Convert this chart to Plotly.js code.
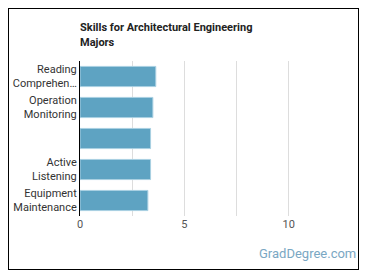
<!DOCTYPE html>
<html>
<head>
<meta charset="utf-8">
<script src="https://cdn.plot.ly/plotly-3.0.1.min.js"></script>
<style>
  html, body { margin: 0; padding: 0; background: #fff; }
  #wrap { position: relative; width: 370px; height: 278px; }
  #chart { width: 370px; height: 278px; }
  #frame { position: absolute; left: 8px; top: 8px; width: 349px; height: 260px; border: 1px solid #000; pointer-events: none; }
</style>
</head>
<body>
<div id="wrap">
  <div id="chart"></div>
  <div id="frame"></div>
</div>
<script>
const categories = ["Reading<br>Comprehen…", "Operation<br>Monitoring", " ", "Active<br>Listening", "Equipment<br>Maintenance"];
const values = [3.63, 3.49, 3.38, 3.38, 3.25];
const xTickVals = [0, 2.5, 5, 7.5, 10];
const xTickText = ["0", "", "5", "", "10"];
const titleText = "Skills for Architectural Engineering<br>Majors";
const watermark = "GradDegree.com";

const trace = {
  type: "bar",
  orientation: "h",
  x: values,
  y: categories,
  marker: { color: "#5ea3c2", line: { color: "#a9d0e2", width: 1 } },
  hoverinfo: "none"
};

const layout = {
  width: 370,
  height: 278,
  margin: { l: 80, r: 29, t: 61, b: 62 },
  paper_bgcolor: "#fff",
  plot_bgcolor: "#fff",
  font: { family: "Roboto, 'Open Sans', sans-serif", size: 11, color: "#333" },
  bargap: 0.35,
  showlegend: false,
  title: {
    text: "<b>" + titleText + "</b>",
    font: { family: "Roboto, sans-serif", size: 11, color: "#222" },
    xref: "paper", x: 0, xanchor: "left",
    yref: "container", y: 0.887, yanchor: "top"
  },
  xaxis: {
    range: [0, 12.5],
    tickvals: xTickVals,
    ticktext: xTickText,
    showgrid: true,
    gridcolor: "#dddddd",
    gridwidth: 1,
    zeroline: false,
    showline: false,
    ticks: "",
    tickfont: { size: 11, color: "#555" },
    fixedrange: true
  },
  yaxis: {
    type: "category",
    autorange: "reversed",
    showline: true,
    linecolor: "#000",
    linewidth: 1,
    showgrid: false,
    zeroline: false,
    ticks: "",
    tickfont: { size: 11, color: "#333" },
    fixedrange: true
  },
  annotations: [{
    text: watermark,
    xref: "paper", yref: "paper",
    x: 1.065, y: -0.245,
    xanchor: "right", yanchor: "middle",
    showarrow: false,
    font: { family: "Roboto, sans-serif", size: 13, color: "#7aa7c3" }
  }]
};

Plotly.newPlot("chart", [trace], layout, { displayModeBar: false, staticPlot: true });
</script>
</body>
</html>
